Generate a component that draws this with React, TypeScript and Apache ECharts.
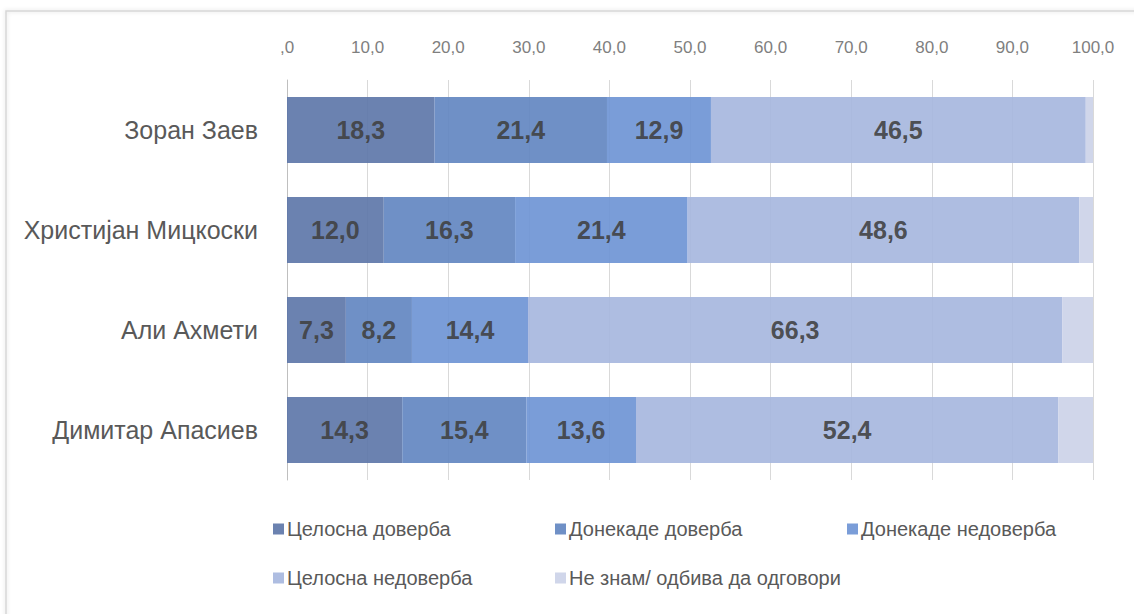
import React, { useEffect, useRef } from "react";
import * as echarts from "echarts";

const categories = ["Зоран Заев", "Христијан Мицкоски", "Али Ахмети", "Димитар Апасиев"];
const seriesNames = [
  "Целосна доверба",
  "Донекаде доверба",
  "Донекаде недоверба",
  "Целосна недоверба",
  "Не знам/ одбива да одговори",
];
const fullTrust = [18.3, 12.0, 7.3, 14.3];
const someTrust = [21.4, 16.3, 8.2, 15.4];
const someDistrust = [12.9, 21.4, 14.4, 13.6];
const fullDistrust = [46.5, 48.6, 66.3, 52.4];
const dontKnow = [0.9, 1.7, 3.8, 4.3];
const tickValues = [0, 10, 20, 30, 40, 50, 60, 70, 80, 90, 100];

const colors = ["#5b74a7", "#5f84c0", "#6c92d4", "#a5b6de", "#cbd1e8"];
const FONT = "'Liberation Sans', Arial, sans-serif";

const fmt = (v: number) => (v === 0 ? ",0" : v.toFixed(1).replace(".", ","));

export default function App() {
  const ref = useRef<HTMLDivElement>(null);
  useEffect(() => {
    if (!ref.current) return;
    const chart = echarts.init(ref.current, null, { renderer: "svg" });
    const values = [fullTrust, someTrust, someDistrust, fullDistrust, dontKnow];
    const legendPos = [
      { left: 273, top: 519 },
      { left: 555, top: 519 },
      { left: 847, top: 519 },
      { left: 273, top: 568 },
      { left: 555, top: 568 },
    ];
    chart.setOption({
      animation: false,
      color: colors,
      grid: { left: 287, right: 41, top: 80, bottom: 134, containLabel: false, outerBoundsMode: "none" },
      xAxis: {
        type: "value",
        position: "top",
        min: 0,
        max: 100,
        interval: 10,
        axisLine: { show: false },
        axisTick: { show: false },
        splitLine: { show: true, lineStyle: { color: "#d9d9d9", width: 1 } },
        axisLabel: {
          margin: 24,
          color: "#7f7f7f",
          fontSize: 17,
          fontFamily: FONT,
          formatter: (v: number) => (tickValues.includes(v) ? fmt(v) : ""),
        },
      },
      yAxis: {
        type: "category",
        inverse: true,
        data: categories,
        axisLine: { show: true, lineStyle: { color: "#bfbfbf" } },
        axisTick: { show: false },
        axisLabel: {
          margin: 29,
          color: "#595959",
          fontSize: 25,
          fontFamily: FONT,
        },
      },
      legend: legendPos.map((p, i) => ({
        data: [seriesNames[i]],
        left: p.left,
        top: p.top,
        icon: "rect",
        itemWidth: 11,
        itemHeight: 11,
        itemGap: 0,
        padding: 0,
        textStyle: { color: "#595959", fontSize: 20, fontFamily: FONT, padding: [0, 0, 0, -2] },
      })),
      graphic: [
        {
          type: "rect",
          shape: { x: 6, y: 11, width: 1200, height: 700 },
          style: {
            fill: "none",
            stroke: "#d6d6d6",
            lineWidth: 1.5,
            shadowBlur: 4,
            shadowColor: "rgba(0,0,0,0.15)",
          },
          silent: true,
        },
      ],
      series: seriesNames.map((name, i) => ({
        name,
        type: "bar",
        stack: "total",
        barWidth: "66%",
        data: values[i],
        itemStyle: { opacity: 0.9 },
        label: {
          show: i < 4,
          position: "inside",
          color: "#404040",
          fontWeight: "bold",
          fontSize: 25,
          fontFamily: FONT,
          formatter: (p: any) => fmt(p.value),
        },
      })),
    });
    return () => chart.dispose();
  }, []);
  return (
    <div
      ref={ref}
      style={{ position: "fixed", left: 0, top: 0, width: 1134, height: 614, background: "#fff" }}
    />
  );
}
